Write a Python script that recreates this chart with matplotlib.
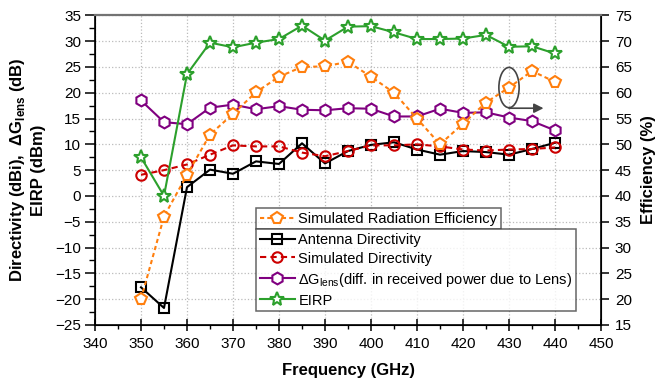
import matplotlib
matplotlib.use("Agg")
import matplotlib.pyplot as plt
from matplotlib.patches import Ellipse
from matplotlib.ticker import MultipleLocator

plt.rcParams["font.family"] = ["Liberation Sans", "DejaVu Sans"]

# Frequency points (GHz)
freq = [350, 355, 360, 365, 370, 375, 380, 385, 390, 395,
        400, 405, 410, 415, 420, 425, 430, 435, 440]

# Simulated radiation efficiency (%), right axis
sim_eff = [20.0, 36.0, 44.1, 51.9, 55.9, 60.1, 63.1, 65.0, 65.1, 66.0,
           63.1, 60.0, 55.0, 50.0, 54.0, 58.1, 61.0, 64.2, 62.1]
# Antenna directivity (dBi)
ant_dir = [-17.7, -21.7, 1.7, 5.1, 4.3, 6.7, 6.2, 10.2, 6.3, 8.7,
           9.9, 10.4, 9.0, 8.0, 8.7, 8.5, 8.0, 9.1, 10.3]
# Simulated directivity (dBi)
sim_dir = [4.1, 5.0, 6.1, 8.0, 9.8, 9.6, 9.6, 8.4, 7.7, 8.7,
           9.8, 9.8, 10.0, 9.6, 9.0, 8.8, 9.0, 9.1, 9.4]
# Delta G lens (dB)
delta_g = [18.5, 14.3, 13.9, 17.1, 17.7, 16.8, 17.4, 16.7, 16.6, 17.0,
           16.9, 15.4, 15.4, 16.9, 16.1, 16.2, 15.2, 14.5, 12.7]
# EIRP (dBm)
eirp = [7.5, 0.0, 23.6, 29.7, 28.8, 29.7, 30.4, 33.0, 30.1, 32.8,
        32.9, 31.7, 30.4, 30.4, 30.5, 31.2, 28.9, 29.0, 27.6]

ORANGE = "#ff7f0e"
RED = "#cc0000"
PURPLE = "#800080"
GREEN = "#2ca02c"

W, H = 657, 392


def style_axes(ax, ax2) -> None:
    ax.set_xlim(340, 450)
    ax.set_ylim(-25, 35)
    ax2.set_ylim(15, 75)
    ax.xaxis.set_major_locator(MultipleLocator(10))
    ax.xaxis.set_minor_locator(MultipleLocator(5))
    ax.yaxis.set_major_locator(MultipleLocator(5))
    ax.yaxis.set_minor_locator(MultipleLocator(2.5))
    ax2.yaxis.set_major_locator(MultipleLocator(5))
    ax.grid(True, which="major", color="#bbbbbb", linestyle=":", linewidth=0.9)
    ax.tick_params(axis="x", which="major", direction="inout", length=9,
                   width=1.1, labelsize=11, pad=4)
    ax.tick_params(axis="x", which="minor", direction="out", length=3, width=1)
    ax.tick_params(axis="y", which="major", direction="out", length=7,
                   width=1.1, labelsize=11, pad=3)
    ax.tick_params(axis="y", which="minor", direction="out", length=4, width=1)
    ax2.tick_params(axis="y", which="major", direction="out", length=6,
                    width=1.1, labelsize=11, pad=4)
    for s in ["left", "bottom"]:
        ax.spines[s].set_linewidth(1.2)
    ax2.spines["right"].set_linewidth(1.2)
    ax2.spines["top"].set_color("0.45")
    ax2.spines["top"].set_linewidth(1.6)
    ax.spines["top"].set_visible(False)


def main() -> None:
    fig = plt.figure(figsize=(W / 100, H / 100), dpi=100)
    ax = fig.add_axes([95 / W, 1 - 325 / H, (601 - 95) / W, (325 - 15.3) / H])
    ax2 = ax.twinx()
    style_axes(ax, ax2)

    mk = dict(markersize=7.5, markeredgewidth=1.5, linewidth=1.5)
    l_ant, = ax.plot(freq, ant_dir, "-", color="black", marker="s",
                     markerfacecolor="none", **{**mk, "markersize": 6.5})
    l_sim, = ax.plot(freq, sim_dir, color=RED, linestyle=(0, (3, 2)),
                     marker="o", markerfacecolor="none", **mk)
    l_dg, = ax.plot(freq, delta_g, "-", color=PURPLE, marker="h",
                    markerfacecolor="white", **{**mk, "markersize": 8.5})
    l_eirp, = ax.plot(freq, eirp, "-", color=GREEN, marker="*",
                      markerfacecolor="white", **{**mk, "markersize": 10})
    l_eff, = ax2.plot(freq, sim_eff, color=ORANGE, linestyle=(0, (2, 1.5)),
                      marker="p", markerfacecolor="white",
                      **{**mk, "markersize": 8.5})

    # ellipse + arrow pointing to the efficiency axis
    ax.add_patch(Ellipse((430, 21), 4.4, 7.8, fill=False, edgecolor="#444444",
                         linewidth=1.2, zorder=5))
    ax.annotate("", xy=(437.5, 17.0), xytext=(430, 17.0),
                arrowprops=dict(arrowstyle="-|>", color="#444444", lw=1.2,
                                mutation_scale=14, shrinkA=0, shrinkB=0),
                zorder=5)

    leg_kw = dict(fontsize=10.5, frameon=True, fancybox=False, borderpad=0.25,
                  handlelength=2.4, handletextpad=0.25, borderaxespad=0,
                  bbox_transform=fig.transFigure, loc="upper left")
    leg1 = ax2.legend([l_eff], ["Simulated Radiation Efficiency"],
                      bbox_to_anchor=(256 / W, 1 - 208 / H),
                      labelspacing=0.2, **leg_kw)
    leg1.get_frame().set_edgecolor("0.25")
    leg1.get_frame().set_linewidth(1.1)
    ax2.add_artist(leg1)
    leg2 = ax2.legend(
        [l_ant, l_sim, l_dg, l_eirp],
        ["Antenna Directivity", "Simulated Directivity",
         r"ΔG$_{\mathregular{lens}}$(diff. in received power due to Lens)",
         "EIRP"],
        bbox_to_anchor=(256 / W, 1 - 229 / H), labelspacing=0.34, **leg_kw)
    leg2.get_frame().set_edgecolor("0.25")
    leg2.get_frame().set_linewidth(1.1)
    leg1.set_zorder(10)
    leg2.set_zorder(10)

    ax.set_xlabel("Frequency (GHz)", fontsize=12, fontweight="bold", labelpad=9)
    fig.text(18 / W, 1 - 170 / H,
             r"Directivity (dBi),  ΔG$_{\mathregular{lens}}$ (dB)",
             rotation=90, ha="center", va="center", fontsize=12,
             fontweight="bold")
    fig.text(38 / W, 1 - 170 / H, "EIRP (dBm)", rotation=90, ha="center",
             va="center", fontsize=12, fontweight="bold")
    fig.text(648 / W, 1 - 170 / H, "Efficiency (%)", rotation=90, ha="center",
             va="center", fontsize=12, fontweight="bold")

    fig.savefig("out.png", dpi=100)


if __name__ == "__main__":
    main()
